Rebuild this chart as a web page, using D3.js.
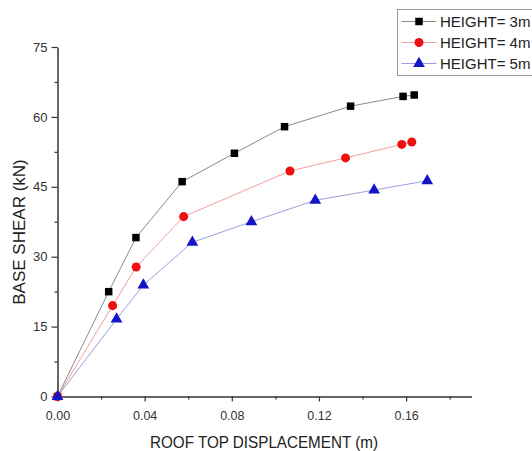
<!DOCTYPE html>
<html>
<head>
<meta charset="utf-8">
<script src="https://cdn.jsdelivr.net/npm/d3@7"></script>
<style>
  html, body { margin: 0; padding: 0; background: #fff; }
  svg { display: block; font-family: "Liberation Sans", Arial, sans-serif; }
</style>
</head>
<body>
<svg id="chart" width="532" height="451"></svg>
<script>
// ---- data ----
const seriesNames = ["HEIGHT= 3m", "HEIGHT= 4m", "HEIGHT= 5m"];
const h3x = [0, 0.0235, 0.036, 0.0572, 0.0812, 0.1042, 0.1345, 0.1586, 0.1637];
const h3y = [0, 22.5, 34.1, 46.1, 52.2, 57.9, 62.3, 64.4, 64.7];
const h4x = [0, 0.0253, 0.0361, 0.0579, 0.1067, 0.1322, 0.158, 0.1626];
const h4y = [0, 19.5, 27.8, 38.6, 48.4, 51.2, 54.1, 54.6];
const h5x = [0, 0.0271, 0.0394, 0.0619, 0.089, 0.1183, 0.1453, 0.1697];
const h5y = [0, 16.6, 23.9, 33.1, 37.5, 42.1, 44.3, 46.3];
const xTicks = [0, 0.04, 0.08, 0.12, 0.16];
const xMinor = [0.02, 0.06, 0.10, 0.14, 0.18];
const yTicks = [0, 15, 30, 45, 60, 75];
const yMinor = [7.5, 22.5, 37.5, 52.5, 67.5];

const series = [
  {name: seriesNames[0], xs: h3x, ys: h3y, line: "#8a8a8a", fill: "#000000", shape: d3.symbolSquare, size: 56},
  {name: seriesNames[1], xs: h4x, ys: h4y, line: "#f0a0a0", fill: "#ee1111", shape: d3.symbolCircle, size: 64},
  {name: seriesNames[2], xs: h5x, ys: h5y, line: "#9aa0dd", fill: "#1515c8", shape: d3.symbolTriangle, size: 60}
];

const svg = d3.select("#chart");
const x = d3.scaleLinear().domain([0, 0.19]).range([57.5, 471.5]);
const y = d3.scaleLinear().domain([0, 75]).range([396.5, 47]);
const axisColor = "#333";

// x axis
const gx = svg.append("g").attr("transform", `translate(0,${y(0)})`);
gx.call(d3.axisBottom(x).tickValues(xTicks).tickFormat(d3.format(".2f")).tickSize(5).tickSizeOuter(0));
const gxm = svg.append("g").attr("transform", `translate(0,${y(0)})`);
gxm.call(d3.axisBottom(x).tickValues(xMinor).tickFormat("").tickSize(3).tickSizeOuter(0));
gxm.select(".domain").remove();
[gx, gxm].forEach(g => {
  g.select(".domain").attr("stroke", axisColor).attr("stroke-width", 1.5);
  g.selectAll(".tick line").attr("stroke", axisColor).attr("stroke-width", 1.2);
});
gx.selectAll(".tick text").attr("font-size", 12.5).attr("fill", "#333").attr("dy", "1.2em")
  .attr("font-family", "Liberation Sans, Arial, sans-serif");

// y axis
const gy = svg.append("g").attr("transform", `translate(${x(0)},0)`);
gy.call(d3.axisLeft(y).tickValues(yTicks).tickFormat(d3.format("d")).tickSize(6).tickSizeOuter(0));
const gym = svg.append("g").attr("transform", `translate(${x(0)},0)`);
gym.call(d3.axisLeft(y).tickValues(yMinor).tickFormat("").tickSize(3).tickSizeOuter(0));
gym.select(".domain").remove();
[gy, gym].forEach(g => {
  g.select(".domain").attr("stroke", axisColor).attr("stroke-width", 1.5);
  g.selectAll(".tick line").attr("stroke", axisColor).attr("stroke-width", 1.2);
});
gy.selectAll(".tick text").attr("font-size", 13).attr("fill", "#333").attr("x", -10)
  .attr("font-family", "Liberation Sans, Arial, sans-serif");

// axis titles
svg.append("text")
  .attr("x", 264).attr("y", 448)
  .attr("text-anchor", "middle")
  .attr("font-size", 17)
  .attr("textLength", 228).attr("lengthAdjust", "spacingAndGlyphs")
  .attr("fill", "#222")
  .text("ROOF TOP DISPLACEMENT (m)");
svg.append("text")
  .attr("transform", "translate(25,232) rotate(-90)")
  .attr("text-anchor", "middle")
  .attr("font-size", 17)
  .attr("fill", "#222")
  .text("BASE SHEAR (kN)");

// series lines and markers
const line = d3.line().x(d => x(d[0])).y(d => y(d[1]));
series.forEach(s => {
  const pts = s.xs.map((v, i) => [v, s.ys[i]]);
  svg.append("path").datum(pts)
    .attr("d", line).attr("fill", "none")
    .attr("stroke", s.line).attr("stroke-width", 1);
});
series.forEach(s => {
  const pts = s.xs.map((v, i) => [v, s.ys[i]]);
  svg.append("g").selectAll("path").data(pts).join("path")
    .attr("d", d3.symbol().type(s.shape).size(s.size))
    .attr("transform", d => `translate(${x(d[0])},${y(d[1])})`)
    .attr("fill", s.fill);
});

// legend
const lg = svg.append("g");
lg.append("rect").attr("x", 397.5).attr("y", 9.5).attr("width", 140).attr("height", 66)
  .attr("fill", "#fff").attr("stroke", "#999").attr("stroke-width", 1);
series.forEach((s, i) => {
  const cy = 21.5 + i * 21;
  lg.append("line").attr("x1", 401.5).attr("x2", 436.5).attr("y1", cy).attr("y2", cy)
    .attr("stroke", s.line).attr("stroke-width", 1);
  lg.append("path").attr("d", d3.symbol().type(s.shape).size(s.size))
    .attr("transform", `translate(419,${cy})`).attr("fill", s.fill);
  lg.append("text").attr("x", 440).attr("y", cy).attr("dy", "0.36em")
    .attr("font-size", 15).attr("fill", "#222").text(s.name);
});
</script>
</body>
</html>
